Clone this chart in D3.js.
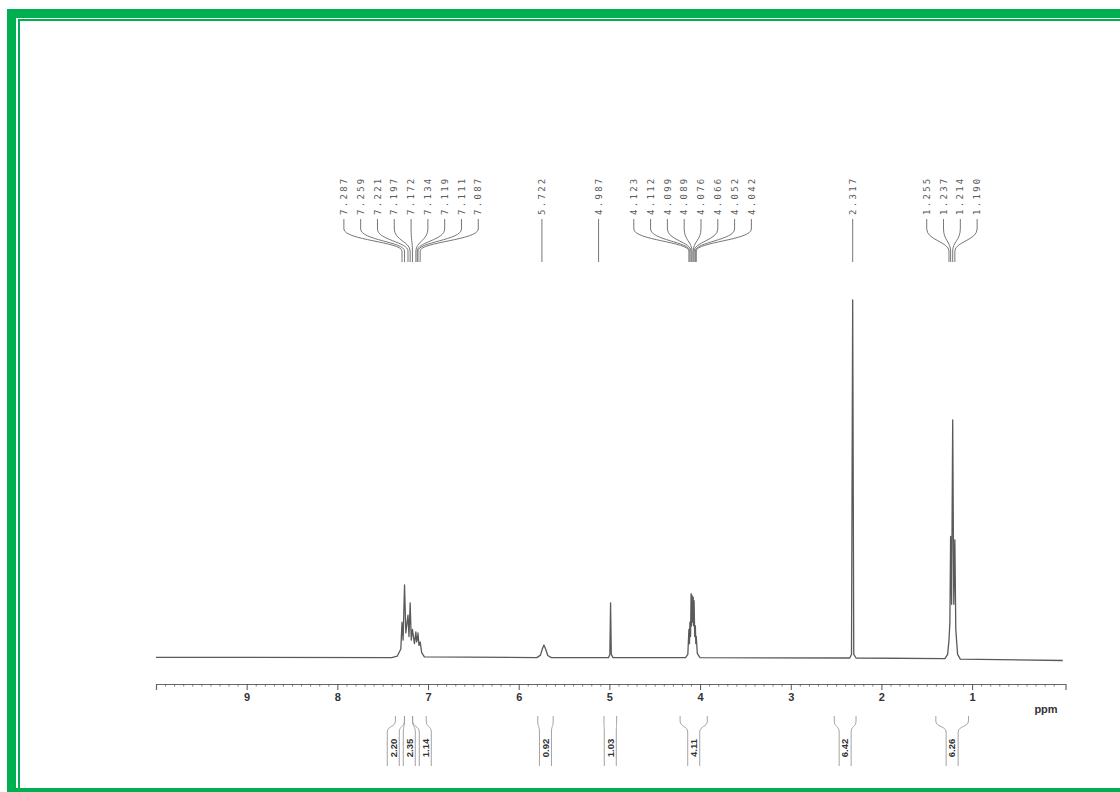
<!DOCTYPE html>
<html>
<head>
<meta charset="utf-8">
<script src="https://cdn.jsdelivr.net/npm/d3@7"></script>
<style>
    body { margin: 0; background: #fff; }
    svg { display: block; }
</style>
</head>
<body>
<svg id="chart" width="1120" height="792"></svg>
<script>
// Spectrum trace: [ppm, relative intensity]
var spectrum = [
    [10.0, 0.2], [7.40, 0.1], [7.34, 0.5], [7.30, 2.5], [7.287, 10], [7.275, 5],
    [7.259, 20.4], [7.245, 7], [7.221, 12], [7.210, 6], [7.197, 15.4], [7.185, 5],
    [7.172, 8], [7.150, 4], [7.134, 7.3], [7.126, 4.5], [7.119, 6], [7.115, 5],
    [7.111, 7], [7.100, 3.5], [7.087, 4.5], [7.07, 1.5], [7.04, 0.3],
    [5.80, 0.1], [5.76, 0.8], [5.74, 2.5], [5.722, 3.6], [5.70, 2.3], [5.68, 0.7], [5.64, 0.1],
    [5.01, 0.1], [4.995, 1], [4.987, 15.4], [4.979, 1], [4.96, 0.1],
    [4.16, 0.1], [4.135, 1], [4.123, 8], [4.117, 4], [4.112, 10], [4.105, 6],
    [4.099, 18], [4.094, 9], [4.089, 17.5], [4.082, 10], [4.076, 17], [4.071, 9],
    [4.066, 16], [4.059, 6], [4.052, 9], [4.047, 4], [4.042, 6], [4.03, 1.2], [4.00, 0.1],
    [2.35, 0], [2.33, 1], [2.317, 100], [2.305, 1], [2.28, 0],
    [1.30, -0.2], [1.27, 1], [1.255, 5], [1.245, 10], [1.237, 34], [1.226, 15],
    [1.214, 66.5], [1.202, 15], [1.190, 33], [1.180, 8], [1.16, 1], [1.13, -0.3],
    [0.0, -0.7]
];

// Peak picking labels, one list per group
var peakGroups = [
    [7.287, 7.259, 7.221, 7.197, 7.172, 7.134, 7.119, 7.111, 7.087],
    [5.722],
    [4.987],
    [4.123, 4.112, 4.099, 4.089, 4.076, 4.066, 4.052, 4.042],
    [2.317],
    [1.255, 1.237, 1.214, 1.190]
];

// Integral regions: start ppm, end ppm, value
var integralFrom = [7.36, 7.26, 7.17, 5.79, 5.06, 4.22, 2.52, 1.40];
var integralTo   = [7.26, 7.17, 7.02, 5.62, 4.92, 3.92, 2.28, 1.04];
var integralVals = ["2.20", "2.35", "1.14", "0.92", "1.03", "4.11", "6.42", "6.26"];

// Axis ticks
var majorTicks = [1, 2, 3, 4, 5, 6, 7, 8, 9];
var minorTicks = d3.range(0, 100).map(function(d) { return d / 10; })
    .filter(function(d) { return d % 1 !== 0; });

var svg = d3.select("#chart");

// Green frame round the picture
var green = "#00af50";
svg.append("rect").attr("x", 7).attr("y", 9).attr("width", 1113).attr("height", 9).attr("fill", green);
svg.append("rect").attr("x", 7).attr("y", 9).attr("width", 9).attr("height", 783).attr("fill", green);
svg.append("rect").attr("x", 18).attr("y", 19).attr("width", 1102).attr("height", 2).attr("fill", green);
svg.append("rect").attr("x", 18).attr("y", 19).attr("width", 2).attr("height", 773).attr("fill", green);
svg.append("rect").attr("x", 7).attr("y", 788).attr("width", 1113).attr("height", 4).attr("fill", green);

// Scales: ppm runs right to left
var x = d3.scaleLinear()
    .domain([10, -0.03])
    .range([156, 1065.5]);

var y = d3.scaleLinear()
    .domain([0, 100])
    .range([658, 300]);

// Spectrum trace
var line = d3.line()
    .x(function(d) { return x(d[0]); })
    .y(function(d) { return y(d[1]); });

svg.append("path")
    .datum(spectrum)
    .attr("fill", "none")
    .attr("stroke", "#5a5a5a")
    .attr("stroke-width", 1.3)
    .attr("stroke-linejoin", "round")
    .attr("d", line);

// Axis with major and minor ticks
var axisY = 684;

svg.append("g")
    .attr("transform", `translate(0, ${axisY})`)
    .call(d3.axisBottom(x).tickValues(minorTicks).tickSize(2.5).tickSizeOuter(0).tickFormat(""))
    .call(function(g) { g.select(".domain").remove(); })
    .selectAll("line").attr("stroke", "#777");

var axis = svg.append("g")
    .attr("transform", `translate(0, ${axisY})`)
    .call(d3.axisBottom(x)
        .tickValues(majorTicks)
        .tickSize(6)
        .tickSizeOuter(6)
        .tickPadding(3)
        .tickFormat(d3.format("d")));

axis.select(".domain").attr("stroke", "#666").attr("stroke-width", 1.2);
axis.selectAll(".tick line").attr("stroke", "#555");
axis.selectAll("text")
    .attr("fill", "#333")
    .style("font-family", "Liberation Sans, Arial, sans-serif")
    .style("font-weight", "bold")
    .style("font-size", "11px");

svg.append("text")
    .attr("x", 1046)
    .attr("y", 713)
    .attr("text-anchor", "middle")
    .attr("fill", "#333")
    .style("font-family", "Liberation Sans, Arial, sans-serif")
    .style("font-weight", "bold")
    .style("font-size", "11px")
    .text("ppm");

// Peak labels on top, spread around the group centre
var labelSpacing = 16.8;
var labelNudge = { "5.722": -2, "4.987": -12 };
var labelBottom = 215;

peakGroups.forEach(function(group) {
    var px = group.map(function(p) { return x(p); });
    var centre = (px[0] + px[px.length - 1]) / 2;
    var g = svg.append("g");

    group.forEach(function(p, i) {
        var lx = centre + (i - (group.length - 1) / 2) * labelSpacing;
        var key = p.toFixed(3);
        if (labelNudge[key] !== undefined) lx += labelNudge[key];

        g.append("text")
            .attr("transform", `translate(${lx}, ${labelBottom}) rotate(-90)`)
            .attr("dy", "0.35em")
            .attr("fill", "#5a5a5a")
            .style("font-family", "DejaVu Sans Mono, monospace")
            .style("font-size", "9px")
            .style("letter-spacing", "2.3px")
            .text(key);

        var d;
        if (group.length === 1) {
            d = `M${lx},219 L${lx},262`;
        } else {
            d = `M${lx},219 L${lx},229 C${lx},240 ${px[i]},242 ${px[i]},251 L${px[i]},262`;
        }
        g.append("path")
            .attr("d", d)
            .attr("fill", "none")
            .attr("stroke", "#777")
            .attr("stroke-width", 1);
    });
});

// Integrals below the axis, labels spread so they do not collide
var integrals = integralVals.map(function(v, i) {
    var x1 = x(integralFrom[i]), x2 = x(integralTo[i]);
    return { x1: x1, x2: x2, mid: (x1 + x2) / 2, value: v };
});

// Simple spreading of neighbouring labels
var minGap = 16;
var clusters = [];
integrals.forEach(function(d) {
    var last = clusters[clusters.length - 1];
    if (last && d.mid - last[last.length - 1].mid < minGap) last.push(d);
    else clusters.push([d]);
});
clusters.forEach(function(c) {
    var centre = d3.mean(c, function(d) { return d.mid; });
    c.forEach(function(d, i) { d.lx = centre + (i - (c.length - 1) / 2) * minGap; });
});

var halfBox = 6;
integrals.forEach(function(d) {
    var g = svg.append("g");
    var left = `M${d.x1},716 L${d.x1},721 C${d.x1},727 ${d.lx - halfBox},726 ${d.lx - halfBox},732 L${d.lx - halfBox},766`;
    var right = `M${d.x2},716 L${d.x2},721 C${d.x2},727 ${d.lx + halfBox},726 ${d.lx + halfBox},732 L${d.lx + halfBox},766`;
    g.selectAll("path")
        .data([left, right])
        .join("path")
        .attr("d", function(p) { return p; })
        .attr("fill", "none")
        .attr("stroke", "#999")
        .attr("stroke-width", 0.9);

    g.append("text")
        .attr("transform", `translate(${d.lx}, 748) rotate(-90)`)
        .attr("dy", "0.35em")
        .attr("text-anchor", "middle")
        .attr("fill", "#333")
        .style("font-family", "Liberation Sans, Arial, sans-serif")
        .style("font-weight", "bold")
        .style("font-size", "9.5px")
        .text(d.value);
});
</script>
</body>
</html>
